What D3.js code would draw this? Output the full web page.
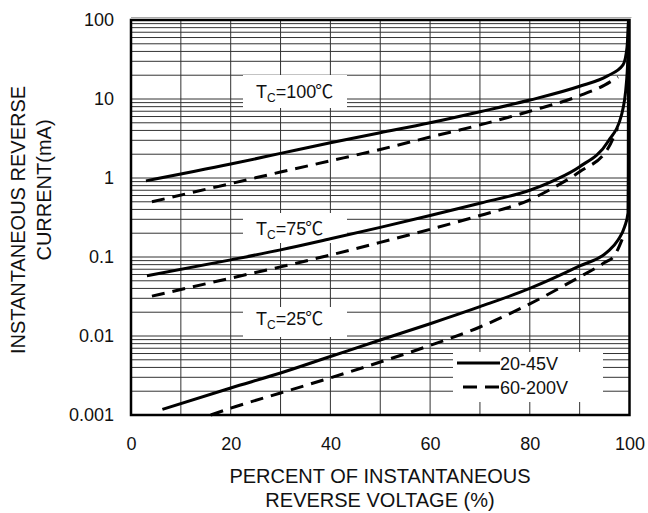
<!DOCTYPE html>
<html>
<head>
<meta charset="utf-8">
<script src="https://cdn.jsdelivr.net/npm/d3@7"></script>
<style>
  body { margin: 0; background: #fff; }
  text { font-family: Arial, "Liberation Sans", "Noto Sans CJK SC", sans-serif; fill: #111; }
</style>
</head>
<body>
<script>
// axis ticks
const xTicks = [0, 20, 40, 60, 80, 100]
const yTicks = [0.001, 0.01, 0.1, 1, 10, 100]
const yTickLabels = ['0.001', '0.01', '0.1', '1', '10', '100']

// curves: [percent of VR, current mA]
const tc100Solid = [[3, 0.92], [20, 1.5], [30, 2.05], [40, 2.8], [50, 3.74], [60, 5.0], [70, 6.9], [80, 9.7], [90, 14.5], [95.5, 19.5], [98.7, 27], [99.5, 45], [99.8, 100]]
const tc100Dash = [[4.2, 0.5], [20, 0.85], [30, 1.19], [40, 1.65], [50, 2.3], [60, 3.3], [70, 4.7], [80, 7.0], [90, 11], [95, 15], [97.7, 19]]
const tc75Solid = [[3.2, 0.058], [20, 0.092], [30, 0.123], [40, 0.17], [50, 0.237], [60, 0.335], [70, 0.479], [80, 0.7], [85, 0.94], [90, 1.39], [95.7, 2.9], [98.4, 6.3], [99.4, 16.6], [99.7, 40], [99.8, 100]]
const tc75Dash = [[4.2, 0.032], [20, 0.054], [30, 0.075], [40, 0.106], [50, 0.153], [60, 0.224], [70, 0.335], [80, 0.53], [85, 0.77], [90, 1.2], [95.7, 2.38], [97.6, 4.3]]
const tc25Solid = [[6.3, 0.00118], [20, 0.0022], [30, 0.0034], [40, 0.0055], [50, 0.0089], [60, 0.0143], [70, 0.0235], [80, 0.04], [90, 0.077], [95.5, 0.115], [97.7, 0.164], [99, 0.24], [99.7, 0.36], [99.75, 1], [99.8, 100]]
const tc25Dash = [[16, 0.001], [20, 0.00122], [30, 0.0019], [40, 0.00295], [50, 0.00468], [60, 0.0076], [70, 0.013], [80, 0.0255], [90, 0.056], [95, 0.085], [97, 0.105], [99, 0.2]]

const legendLabels = ['20-45V', '60-200V']

const dimensions = {
    width: 648,
    height: 513
}

const svg = d3.select('body').append('svg')
    .attr('width', dimensions.width)
    .attr('height', dimensions.height)

const x = d3.scaleLinear().domain([0, 100]).range([131, 629.5])
const y = d3.scaleLog().domain([0.001, 100]).range([415, 20])

// grid
const grid = svg.append('g')
grid.selectAll('.vgrid')
    .data(x.ticks(10).filter(d => d > 0 && d < 100))
    .enter()
    .append('line')
    .attr('x1', d => x(d)).attr('x2', d => x(d))
    .attr('y1', y(100)).attr('y2', y(0.001))
    .attr('stroke', '#333')
    .attr('stroke-width', 1)

grid.selectAll('.hgrid')
    .data(y.ticks())
    .enter()
    .append('line')
    .attr('x1', x(0)).attr('x2', x(100))
    .attr('y1', d => y(d)).attr('y2', d => y(d))
    .attr('stroke', '#333')
    .attr('stroke-width', 1)

// white boxes behind the labels
const boxes = [
    [243, 75, 104, 33],
    [243, 213, 104, 30],
    [243, 307, 104, 30],
    [453, 352, 150, 50]
]
svg.selectAll('.box')
    .data(boxes)
    .enter()
    .append('rect')
    .attr('x', d => d[0]).attr('y', d => d[1])
    .attr('width', d => d[2]).attr('height', d => d[3])
    .attr('fill', '#fff')

// frame
svg.append('line')
    .attr('x1', x(0)).attr('x2', x(100) + 2)
    .attr('y1', 17.5).attr('y2', 17.5)
    .attr('stroke', '#aaa')
svg.append('rect')
    .attr('x', x(0)).attr('y', y(100))
    .attr('width', x(100) - x(0)).attr('height', y(0.001) - y(100))
    .attr('fill', 'none')
    .attr('stroke', '#000')
    .attr('stroke-width', 2.5)

// axes
const xAxis = svg.append('g')
    .attr('transform', 'translate(0,' + y(0.001) + ')')
    .call(d3.axisBottom(x).tickValues(xTicks).tickSize(0).tickPadding(22))
xAxis.select('.domain').remove()
xAxis.selectAll('text').attr('font-size', 18).attr('fill', '#111')

const yAxis = svg.append('g')
    .attr('transform', 'translate(' + x(0) + ',0)')
    .call(d3.axisLeft(y).tickValues(yTicks).tickSize(0).tickPadding(17)
        .tickFormat((d, i) => yTickLabels[i]))
yAxis.select('.domain').remove()
yAxis.selectAll('text').attr('font-size', 18).attr('fill', '#111')

// axis titles
svg.append('text')
    .attr('x', 380).attr('y', 483)
    .attr('text-anchor', 'middle').attr('font-size', 20)
    .text('PERCENT OF INSTANTANEOUS')
svg.append('text')
    .attr('x', 380).attr('y', 507)
    .attr('text-anchor', 'middle').attr('font-size', 20)
    .text('REVERSE VOLTAGE (%)')
svg.append('text')
    .attr('transform', 'translate(25,220) rotate(-90)')
    .attr('text-anchor', 'middle').attr('font-size', 20)
    .text('INSTANTANEOUS REVERSE')
svg.append('text')
    .attr('transform', 'translate(51,190) rotate(-90)')
    .attr('text-anchor', 'middle').attr('font-size', 20)
    .text('CURRENT(mA)')

// curves
const line = d3.line()
    .x(d => x(d[0]))
    .y(d => y(d[1]))
    .curve(d3.curveMonotoneX)

const series = [
    { data: tc100Solid, dash: null },
    { data: tc100Dash, dash: '13,8' },
    { data: tc75Solid, dash: null },
    { data: tc75Dash, dash: '13,8' },
    { data: tc25Solid, dash: null },
    { data: tc25Dash, dash: '13,8' }
]
svg.selectAll('.curve')
    .data(series)
    .enter()
    .append('path')
    .attr('d', d => line(d.data))
    .attr('fill', 'none')
    .attr('stroke', '#000')
    .attr('stroke-width', 3)
    .attr('stroke-dasharray', d => d.dash)

// temperature labels
const temps = [['=100', 98], ['=75', 235], ['=25', 325]]
temps.forEach(function (t) {
    const txt = svg.append('text')
        .attr('x', 256).attr('y', t[1])
        .attr('font-size', 18)
    txt.append('tspan').text('T')
    txt.append('tspan').attr('font-size', 12).attr('dy', 4).text('C')
    txt.append('tspan').attr('dy', -4).text(t[0])
    txt.append('tspan').style('font-family', '"Noto Sans CJK SC"').attr('dx', -1).text('℃')
})

// legend
svg.append('line')
    .attr('x1', 457).attr('x2', 500)
    .attr('y1', 363).attr('y2', 363)
    .attr('stroke', '#000').attr('stroke-width', 3)
svg.append('line')
    .attr('x1', 463).attr('x2', 500)
    .attr('y1', 387).attr('y2', 387)
    .attr('stroke', '#000').attr('stroke-width', 3)
    .attr('stroke-dasharray', '14,8')
svg.selectAll('.legtext')
    .data(legendLabels)
    .enter()
    .append('text')
    .attr('x', 500)
    .attr('y', (d, i) => 370 + i * 24)
    .attr('font-size', 18)
    .text(d => d)
</script>
</body>
</html>
